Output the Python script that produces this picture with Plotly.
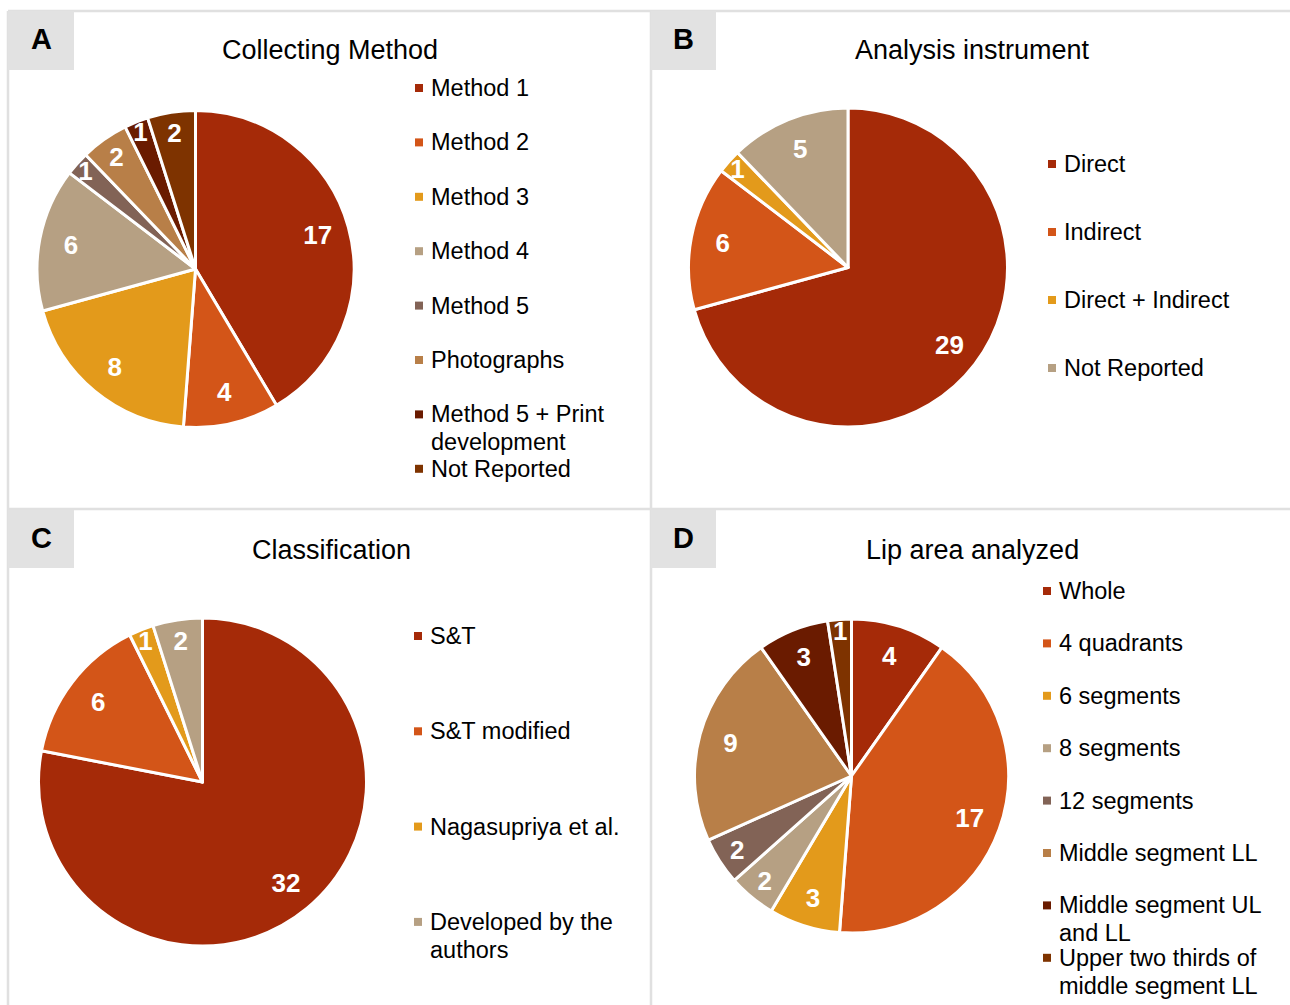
import textwrap
import plotly.graph_objects as go

W, H = 1290, 1005

# ---------------- data ----------------
method_labels = ["Method 1", "Method 2", "Method 3", "Method 4", "Method 5",
                 "Photographs", "Method 5 + Print development", "Not Reported"]
method_values = [17, 4, 8, 6, 1, 2, 1, 2]

instrument_labels = ["Direct", "Indirect", "Direct + Indirect", "Not Reported"]
instrument_values = [29, 6, 1, 5]

class_labels = ["S&T", "S&T modified", "Nagasupriya et al.", "Developed by the authors"]
class_values = [32, 6, 1, 2]

lip_labels = ["Whole", "4 quadrants", "6 segments", "8 segments", "12 segments",
              "Middle segment LL", "Middle segment UL and LL",
              "Upper two thirds of middle segment LL"]
lip_values = [4, 17, 3, 2, 2, 9, 3, 1]

palette = ["#A52A08", "#D35518", "#E39A1B", "#B6A083",
           "#826356", "#B87F48", "#6A1B00", "#7E3300"]

# ---------------- layout constants (pixels) ----------------
panels = [
    dict(letter="A", title="Collecting Method", labels=method_labels, values=method_values,
         cx=195.5, cy=269, r=158.5, title_x=330, title_y=50, box=(8, 11, 74, 70),
         leg_x=415, leg_y0=88, leg_step=54.4, wrap=17),
    dict(letter="B", title="Analysis instrument", labels=instrument_labels, values=instrument_values,
         cx=848, cy=267.5, r=159.5, title_x=972, title_y=50, box=(651, 11, 716, 70),
         leg_x=1048, leg_y0=164, leg_step=68, wrap=20),
    dict(letter="C", title="Classification", labels=class_labels, values=class_values,
         cx=202.5, cy=782, r=164, title_x=331, title_y=550, box=(8, 510, 74, 568),
         leg_x=414, leg_y0=636, leg_step=95.3, wrap=18),
    dict(letter="D", title="Lip area analyzed", labels=lip_labels, values=lip_values,
         cx=851.5, cy=776, r=157, title_x=972, title_y=550, box=(651, 510, 716, 568),
         leg_x=1043, leg_y0=591, leg_step=52.4, wrap=19),
]

FONT = "Liberation Sans, Arial, Helvetica, sans-serif"
LEG_SIZE = 23.5
LINE_H = 28
SQ = 8
GRID = "#E0E0E0"
BOXC = "#E2E2E2"


def px(x):
    return x / W


def py(y):
    return 1 - y / H


fig = go.Figure()
shapes = []
annotations = []

# panel frames
for (x0, y0, x1, y1) in [(8, 11, 1290, 11), (8, 509, 1290, 509),
                         (8, 11, 8, 1005), (651, 11, 651, 1005)]:
    shapes.append(dict(type="line", xref="paper", yref="paper",
                       x0=px(x0), y0=py(y0), x1=px(x1), y1=py(y1),
                       line=dict(color=GRID, width=2.5), layer="below"))

for p in panels:
    n = len(p["values"])
    cols = palette[:n]
    dom = dict(x=[px(p["cx"] - p["r"]), px(p["cx"] + p["r"])],
               y=[py(p["cy"] + p["r"]), py(p["cy"] - p["r"])])
    # filled pie
    fig.add_trace(go.Pie(labels=p["labels"], values=p["values"], domain=dom,
                         sort=False, direction="clockwise", rotation=0,
                         marker=dict(colors=cols, line=dict(color="white", width=3)),
                         textinfo="none", showlegend=False, hoverinfo="label+value"))
    # transparent ring carrying the value labels
    fig.add_trace(go.Pie(labels=p["labels"], values=p["values"], domain=dom,
                         sort=False, direction="clockwise", rotation=0, hole=0.6,
                         marker=dict(colors=["rgba(0,0,0,0)"] * n, line=dict(width=0)),
                         textinfo="value", textposition="inside",
                         insidetextorientation="horizontal",
                         insidetextfont=dict(color="white", size=26, family=FONT, weight="bold"),
                         showlegend=False, hoverinfo="skip"))

    # label box + letter
    bx0, by0, bx1, by1 = p["box"]
    shapes.append(dict(type="rect", xref="paper", yref="paper",
                       x0=px(bx0), y0=py(by1), x1=px(bx1), y1=py(by0),
                       fillcolor=BOXC, line=dict(width=0), layer="below"))
    annotations.append(dict(text="<b>%s</b>" % p["letter"], xref="paper", yref="paper",
                            x=px((bx0 + bx1) / 2), y=py((by0 + by1) / 2 - 1),
                            xanchor="center", yanchor="middle", showarrow=False,
                            font=dict(family=FONT, size=29, color="black")))
    # title
    annotations.append(dict(text=p["title"], xref="paper", yref="paper",
                            x=px(p["title_x"]), y=py(p["title_y"]),
                            xanchor="center", yanchor="middle", showarrow=False,
                            font=dict(family=FONT, size=27, color="black")))
    # legend
    for i, (lab, c) in enumerate(zip(p["labels"], cols)):
        yc = p["leg_y0"] + i * p["leg_step"]
        shapes.append(dict(type="rect", xref="paper", yref="paper",
                           x0=px(p["leg_x"]), x1=px(p["leg_x"] + SQ),
                           y0=py(yc + SQ / 2), y1=py(yc - SQ / 2),
                           fillcolor=c, line=dict(width=0)))
        for k, line in enumerate(textwrap.wrap(lab, p["wrap"])):
            annotations.append(dict(text=line, xref="paper", yref="paper",
                                    x=px(p["leg_x"] + SQ + 6),
                                    y=py(yc + k * LINE_H),
                                    xanchor="left", yanchor="middle", align="left",
                                    showarrow=False,
                                    font=dict(family=FONT, size=LEG_SIZE, color="black")))

fig.update_layout(
    width=W, height=H, margin=dict(l=0, r=0, t=0, b=0),
    paper_bgcolor="white", plot_bgcolor="white",
    font=dict(family=FONT),
    shapes=shapes, annotations=annotations,
    uniformtext=dict(mode="show", minsize=26),
    showlegend=False,
)

fig.write_html("out.html")
